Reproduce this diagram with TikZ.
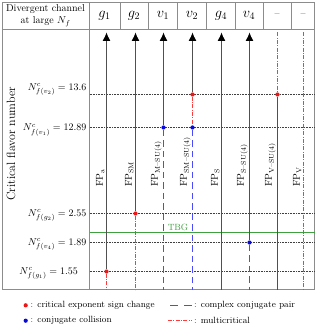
\documentclass[tikz,border=0pt]{standalone}
\usepackage{amsmath}
\usepackage{tikz}
\usetikzlibrary{arrows.meta}
\definecolor{critred}{HTML}{E81818}
\definecolor{multired}{HTML}{FF3A3A}
\definecolor{collblue}{HTML}{0808D8}
\definecolor{pairblue}{HTML}{4A4AFF}
\definecolor{tbggreen}{HTML}{3FA03F}
\definecolor{changray}{HTML}{505050}
\definecolor{framegray}{HTML}{8C8C8C}
\tikzset{
  chan/.style={changray,line width=0.9pt},
  multi/.style={multired,line width=1pt,dash pattern=on 4pt off 1.3pt on 1pt off 1.3pt},
  cpair/.style={pairblue,line width=1pt,dash pattern=on 6.5pt off 4pt},
  critdot/.style={circle,fill=critred,inner sep=0pt,minimum size=4.2pt},
  colldot/.style={circle,fill=collblue,inner sep=0pt,minimum size=4.2pt},
  level/.style={black!75,line width=0.6pt,densely dotted},
  uptip/.style={-{Latex[black,length=8.5pt,width=8pt]}},
  fplab/.style={rotate=90,anchor=south west,inner sep=1pt},
  tframe/.style={framegray,line width=0.8pt},
}

\begin{document}
\begin{tikzpicture}[x=1pt,y=1pt,font=\normalsize]
\useasboundingbox (0,0) rectangle (317,-328);
\def\yvb{-94.5}  % 13.6
\def\yva{-127.5} % 12.89
\def\ygb{-213.5} % 2.55
\def\ytbg{-232.5}
\def\yvd{-242.5} % 1.89
\def\yga{-271.5} % 1.55
% table frame
\draw[tframe] (2.5,-2.5) rectangle (314.5,-289.5);
\draw[tframe] (2.5,-29.5) -- (314.5,-29.5);
\draw[tframe] (89.5,-2.5) -- (89.5,-289.5);
\foreach \x in {120.5,148.5,177.5,206.5,235.5,263.5,291.5}
  \draw[tframe] (\x,-2.5) -- (\x,-29.5);

% header
\node[align=center,inner sep=0pt] (head) at (45.5,-15.5) {Divergent channel\\at large $N_f$};
\foreach \i/\x/\sym in {1/104.5/{$g_1$},2/134/{$g_2$},3/163/{$v_1$},4/192/{$v_2$},
  5/221/{$g_4$},6/249/{$v_4$},7/277/{\normalsize --},8/303/{\normalsize --}}
  \node[font=\Large] (h\i) at (\x,-15.5) {\sym};

\node[rotate=90,font=\large,inner sep=1pt] (ylab) at (11,-144) {Critical flavor number};

% critical values
\node[anchor=base east,inner sep=1pt] (nvb) at (87.5,-90.3) {$N^c_{f(v_2)}=13.6$};
\node[anchor=base east,inner sep=1pt] (nva) at (87.5,-131) {$N^c_{f(v_1)}=12.89$};
\node[anchor=base east,inner sep=1pt] (ngb) at (87.5,-216.6) {$N^c_{f(g_2)}=2.55$};
\node[anchor=base east,inner sep=1pt] (nvd) at (87.5,-245.6) {$N^c_{f(v_4)}=1.89$};
\node[anchor=base east,inner sep=1pt] (nga) at (79,-274.3) {$N^c_{f(g_1)}=1.55$};
\foreach \n/\y in {vb/\yvb,va/\yva,gb/\ygb,vd/\yvd,ga/\yga} {
  \coordinate (L\n) at (89.5,\y);
  \coordinate (R\n) at (314.5,\y);
  \draw[level] (L\n) -- (R\n);
}
\coordinate (Ltbg) at (89.5,\ytbg);
\coordinate (Rtbg) at (314.5,\ytbg);
\draw[tbggreen,line width=1pt] (Ltbg) -- (Rtbg);
\node[tbggreen,font=\small,anchor=south,inner sep=1pt] (tbg) at (178,\ytbg+0.8) {TBG};

% channels
\foreach \i/\x in {1/106.5,2/135.5,3/163.5,4/192.5,5/221.5,6/249.5,7/277.5,8/303.5} {
  \coordinate (top\i) at (\x,-32.5);
  \coordinate (bot\i) at (\x,-289.5);
}
\foreach \i/\x/\lab in {1/106.5/{a},2/135.5/{SM},3/163.5/{M--SU(4)},4/192.5/{SM--SU(4)},
  5/221.5/{S},6/249.5/{S--SU(4)},7/277.5/{V--SU(4)},8/303.5/{V}}
  \node[fplab] (fp\i) at (\x-0.8,-188) {$\mathrm{FP}_{\text{\lab}}$};

\node[critdot] (dga) at (106.5,\yga) {};
\node[critdot] (dgb) at (135.5,\ygb) {};
\node[colldot] (dva) at (163.5,\yva) {};
\node[critdot] (dvb) at (192.5,\yvb) {};
\node[colldot] (dvbb) at (192.5,\yva) {};
\node[colldot] (dvd) at (249.5,\yvd) {};
\node[critdot] (dx) at (277.5,\yvb) {};

\draw[chan,uptip] (dga) -- (top1);
\draw[multi] (dga) -- (bot1);
\draw[chan,uptip] (dgb) -- (top2);
\draw[multi] (dgb) -- (bot2);
\draw[chan,uptip] (dva) -- (top3);
\draw[cpair] (dva) -- (bot3);
\draw[chan,uptip] (dvb) -- (top4);
\draw[multi] (dvb) -- (dvbb);
\draw[cpair] (dvbb) -- (bot4);
\draw[chan,uptip] (bot5) -- (top5);
\draw[chan,uptip] (dvd) -- (top6);
\draw[cpair] (dvd) -- (bot6);
\draw[multi] (top7) -- (dx);
\draw[chan] (dx) -- (bot7);
\draw[multi] (top8) -- (bot8);

% legend
\node[critdot] (kcrit) at (25.7,-305.3) {};
\node[anchor=west,font=\small,inner sep=1pt] (tcrit) at (29.5,-305.3) {: critical exponent sign change};
\node[colldot] (kcoll) at (25.7,-320.7) {};
\node[anchor=west,font=\small,inner sep=1pt] (tcoll) at (29.5,-320.7) {: conjugate collision};
\coordinate (kpa) at (170,-305.5);
\coordinate (kpb) at (192,-305.5);
\draw[cpair,dash pattern=on 8pt off 6pt] (kpa) -- (kpb);
\node[anchor=west,font=\small,inner sep=1pt] (tpair) at (193,-305.3) {: complex conjugate pair};
\coordinate (kma) at (168,-320.5);
\coordinate (kmb) at (191,-320.5);
\draw[multi] (kma) -- (kmb);
\node[anchor=west,font=\small,inner sep=1pt] (tmulti) at (193,-320.7) {: multicritical};
\end{tikzpicture}
\end{document}
